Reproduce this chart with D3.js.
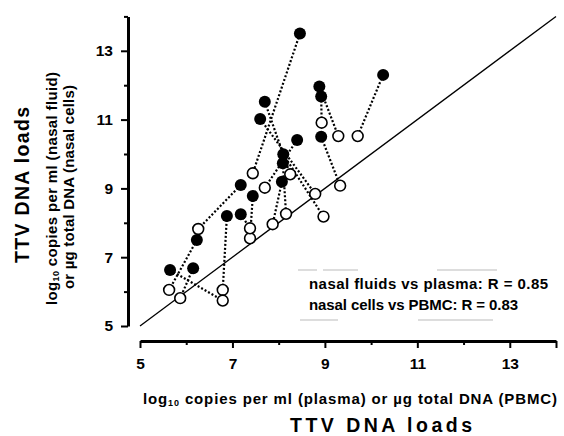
<!DOCTYPE html>
<html><head><meta charset="utf-8">
<script src="https://cdn.jsdelivr.net/npm/d3@7/dist/d3.min.js"></script>
<style>
body{margin:0;background:#fff;}
text{font-family:"Liberation Sans",Arial,sans-serif;font-weight:bold;fill:#000;}
</style></head>
<body><svg id="c" width="564" height="436"></svg>
<script>
// nasal fluids vs plasma (filled circles)
const fluidX = [8.46,10.26,8.88,8.92,8.92,7.70,7.60,8.40,8.10,8.09,8.07,7.18,7.44,7.18,6.88,6.23,6.15,5.65];
const fluidY = [13.50,12.30,11.96,11.67,10.50,11.52,11.02,10.41,9.99,9.73,9.19,9.10,8.78,8.25,8.20,7.50,6.68,6.63];
// nasal cells vs PBMC (open circles), same patients in same order
const cellX  = [7.44,9.71,9.29,8.93,9.33,8.25,8.79,7.70,8.97,8.16,7.87,6.26,7.38,7.38,6.79,5.63,5.87,6.79];
const cellY  = [9.44,10.52,10.52,10.91,9.08,9.41,8.84,9.02,8.18,8.26,7.96,7.82,7.55,7.84,6.05,6.05,5.81,5.74];
const xTicks = [5,6,7,8,9,10,11,12,13,14];
const yTicks = [5,6,7,8,9,10,11,12,13,14];
const tickLabels = ["5","7","9","11","13"];
const legendLines = ["nasal fluids vs plasma: R = 0.85","nasal cells vs PBMC: R = 0.83"];

const svg = d3.select("#c");
const x = d3.scaleLinear().domain([5,14]).range([140,556]);
const y = d3.scaleLinear().domain([5,14]).range([326,16.4]);
const isLab = d => tickLabels.includes(String(d));

// identity line
svg.append("line").attr("x1",x(5)).attr("y1",y(5)).attr("x2",x(14)).attr("y2",y(14))
  .attr("stroke","#000").attr("stroke-width",1.3);

// axes
const xa = svg.append("g").attr("transform","translate(0,341)")
  .call(d3.axisBottom(x).tickValues(xTicks).tickSizeOuter(0).tickSizeInner(7).tickPadding(10)
    .tickFormat(d => isLab(d) ? d : ""));
xa.selectAll(".tick line").attr("y2", d => (isLab(d)||d===14) ? 7 : 4);
const ya = svg.append("g").attr("transform","translate(128,0)")
  .call(d3.axisLeft(y).tickValues(yTicks).tickSizeOuter(0).tickSizeInner(7).tickPadding(8)
    .tickFormat(d => isLab(d) ? d : ""));
ya.selectAll(".tick line").attr("x2", d => (isLab(d)) ? -7 : -4);
[xa,ya].forEach(g=>{
  g.select(".domain").attr("stroke","#000").attr("stroke-width",3);
  g.selectAll(".tick line").attr("stroke","#000").attr("stroke-width",2);
  g.selectAll(".tick text").attr("font-size",15.5).attr("font-family","Liberation Sans, Arial, sans-serif").attr("font-weight","bold").attr("fill","#000");
});

// connecting dotted lines
const idx = d3.range(fluidX.length);
svg.append("g").selectAll("line").data(idx).join("line")
  .attr("x1",i=>x(fluidX[i])).attr("y1",i=>y(fluidY[i]))
  .attr("x2",i=>x(cellX[i])).attr("y2",i=>y(cellY[i]))
  .attr("stroke","#000").attr("stroke-width",2.2).attr("stroke-dasharray","2,2");

// markers
svg.append("g").selectAll("circle").data(idx).join("circle")
  .attr("cx",i=>x(fluidX[i])).attr("cy",i=>y(fluidY[i])).attr("r",6).attr("fill","#000");
svg.append("g").selectAll("circle").data(idx).join("circle")
  .attr("cx",i=>x(cellX[i])).attr("cy",i=>y(cellY[i])).attr("r",5.4)
  .attr("fill","#fff").attr("stroke","#000").attr("stroke-width",1.6);

// faint legend box fragments
const frag = [[298,317,270],[323,358,270],[437,497,270],[300,338,320],[418,493,320]];
svg.append("g").selectAll("line").data(frag).join("line")
  .attr("x1",d=>d[0]).attr("x2",d=>d[1]).attr("y1",d=>d[2]).attr("y2",d=>d[2])
  .attr("stroke","#bbb").attr("stroke-width",1);

// legend text
svg.append("text").attr("x",309).attr("y",289).attr("font-size",15)
  .attr("textLength",239).attr("lengthAdjust","spacing").text(legendLines[0]);
svg.append("text").attr("x",309).attr("y",310).attr("font-size",15)
  .attr("textLength",209).attr("lengthAdjust","spacing").text(legendLines[1]);

// x axis titles
const xt = svg.append("text").attr("x",143).attr("y",404).attr("font-size",15)
  .attr("textLength",414).attr("lengthAdjust","spacing");
xt.append("tspan").text("log");
xt.append("tspan").attr("font-size",9).attr("dy",2).text("10");
xt.append("tspan").attr("dy",-2).text(" copies per ml (plasma) or µg total DNA (PBMC)");
svg.append("text").attr("x",290).attr("y",432).attr("font-size",19.5)
  .attr("textLength",182).attr("lengthAdjust","spacing").text("TTV DNA loads");

// y axis titles
svg.append("text").attr("transform","translate(29,263) rotate(-90)").attr("font-size",19.5)
  .attr("textLength",156).attr("lengthAdjust","spacing").text("TTV DNA loads");
const y2 = svg.append("text").attr("transform","translate(57,305) rotate(-90)").attr("font-size",15)
  .attr("textLength",233).attr("lengthAdjust","spacing");
y2.append("tspan").text("log");
y2.append("tspan").attr("font-size",9).attr("dy",2).text("10");
y2.append("tspan").attr("dy",-2).text(" copies per ml (nasal fluid)");
svg.append("text").attr("transform","translate(74,289) rotate(-90)").attr("font-size",15)
  .attr("textLength",204).attr("lengthAdjust","spacing").text("or µg total DNA (nasal cells)");
</script></body></html>
